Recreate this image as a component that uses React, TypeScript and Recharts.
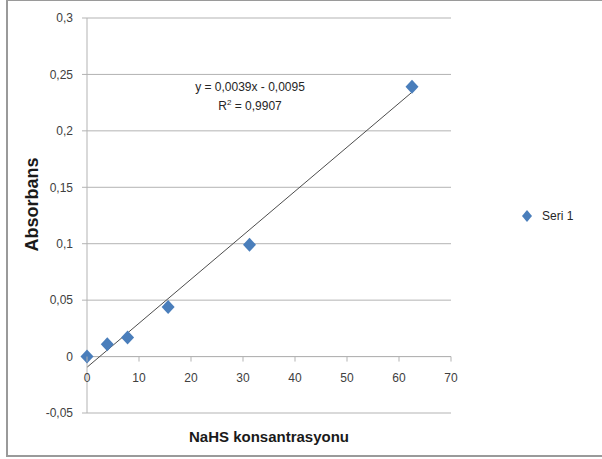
import {
  ComposedChart,
  Scatter,
  Line,
  XAxis,
  YAxis,
  CartesianGrid,
  ReferenceLine,
} from "recharts";

const concentration = [0, 3.9, 7.8, 15.6, 31.25, 62.5];
const absorbance = [0, 0.011, 0.017, 0.044, 0.099, 0.239];
const xTicks = [0, 10, 20, 30, 40, 50, 60, 70];
const yTicks = [-0.05, 0, 0.05, 0.1, 0.15, 0.2, 0.25, 0.3];
const trendX = [0, 62.5];
const slope = 0.0039;
const intercept = -0.0095;

const points = concentration.map((x, i) => ({ x, y: absorbance[i] }));
const trend = trendX.map((x) => ({ x, t: slope * x + intercept }));

const W = 590;
const H = 450;
const M = { top: 17, right: 147, bottom: 10, left: 10 };
const X_AXIS_H = 28;
const plotH = H - M.top - M.bottom - X_AXIS_H;
const zeroY = M.top + (plotH * 0.3) / 0.35;

const fmt = (v: number) => String(v).replace(".", ",");
const font = "'Liberation Sans', Arial, sans-serif";
const blue = "#4a7ebb";
const gridColor = "#b3b3b3";
const border = "#9a9a9a";

const Diamond = (props: any) => {
  const { cx, cy } = props;
  if (cx == null || cy == null) return null;
  return (
    <polygon
      points={`${cx},${cy - 7} ${cx + 6.5},${cy} ${cx},${cy + 7} ${cx - 6.5},${cy}`}
      fill={blue}
    />
  );
};

// x axis sits on y = 0, not at the bottom of the plot
const XTick = (props: any) => {
  const { x, payload } = props;
  return (
    <g>
      <line x1={x} x2={x} y1={zeroY} y2={zeroY + 5} stroke={gridColor} />
      <text
        x={x}
        y={zeroY + 21}
        textAnchor="middle"
        dy="0.355em"
        fontSize={12}
        fontFamily={font}
        fill="#404040"
      >
        {fmt(payload.value)}
      </text>
    </g>
  );
};

const YTitle = (props: any) => {
  const vb = props.viewBox || {};
  const x = vb.x + 14;
  const y = vb.y + vb.height / 2 - 11;
  return (
    <text
      x={x}
      y={y}
      transform={`rotate(-90, ${x}, ${y})`}
      textAnchor="middle"
      dy="0.355em"
      fontFamily={font}
      fontWeight="bold"
      fontSize={18}
      fill="#1a1a1a"
    >
      Absorbans
    </text>
  );
};

export default function App() {
  return (
    <div
      style={{
        position: "relative",
        width: 620,
        height: 457,
        marginLeft: 6,
        background: "#fff",
        overflow: "hidden",
      }}
    >
      <style>{"body{margin:0;overflow:hidden}"}</style>
      <div style={{ position: "absolute", left: 2, top: 1 }}>
        <ComposedChart width={W} height={H} margin={M}>
          <CartesianGrid vertical={false} stroke={gridColor} />
          <XAxis
            type="number"
            dataKey="x"
            domain={[0, 70]}
            ticks={xTicks}
            height={X_AXIS_H}
            axisLine={false}
            tickLine={false}
            tick={<XTick />}
            label={{
              value: "NaHS konsantrasyonu",
              position: "insideBottom",
              offset: -1,
              style: { fontFamily: font, fontWeight: "bold", fontSize: 15, fill: "#1a1a1a" },
            }}
          />
          <YAxis
            type="number"
            dataKey="y"
            domain={[-0.05, 0.3]}
            ticks={yTicks}
            width={69}
            stroke={gridColor}
            tickSize={5}
            tickMargin={9}
            tickFormatter={fmt}
            tick={{ fontSize: 12, fontFamily: font, fill: "#404040" }}
            label={<YTitle />}
          />
          <ReferenceLine y={0} stroke={gridColor} />
          <Line
            data={trend}
            dataKey="t"
            type="linear"
            stroke="#4d4d4d"
            strokeWidth={1}
            dot={false}
            activeDot={false}
            isAnimationActive={false}
          />
          <Scatter data={points} dataKey="y" shape={<Diamond />} isAnimationActive={false} />
        </ComposedChart>
      </div>

      <div
        style={{
          position: "absolute",
          left: 244,
          top: 78,
          transform: "translateX(-50%)",
          whiteSpace: "nowrap",
          textAlign: "center",
          fontFamily: font,
          fontSize: 12,
          lineHeight: "19px",
          color: "#262626",
        }}
      >
        <div>y = 0,0039x - 0,0095</div>
        <div>
          R<sup style={{ fontSize: 8, lineHeight: 0 }}>2</sup> = 0,9907
        </div>
      </div>

      <div
        style={{
          position: "absolute",
          left: 515,
          top: 209,
          display: "flex",
          alignItems: "center",
          fontFamily: font,
          fontSize: 12,
          color: "#262626",
        }}
      >
        <svg width={12} height={14} style={{ marginRight: 9 }}>
          <polygon points="6,1 11,7 6,13 1,7" fill={blue} />
        </svg>
        <span>Seri 1</span>
      </div>

      <div
        style={{
          position: "absolute",
          left: 0,
          top: 0,
          width: 620,
          height: 457,
          boxSizing: "border-box",
          borderLeft: `2px solid ${border}`,
          borderTop: `1px solid ${border}`,
          borderBottom: `2px solid ${border}`,
          pointerEvents: "none",
        }}
      />
    </div>
  );
}
